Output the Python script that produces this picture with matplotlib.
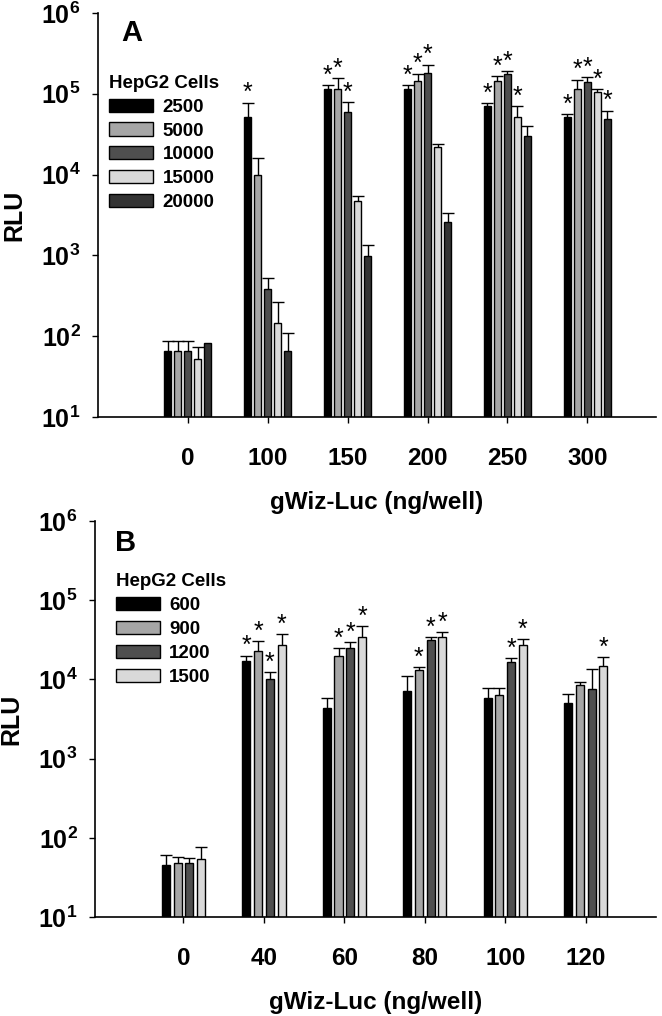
import numpy as np
import matplotlib
matplotlib.use("Agg")
import matplotlib.pyplot as plt
from matplotlib.patches import Patch
from matplotlib.ticker import FixedLocator, FuncFormatter, NullLocator

plt.rcParams['font.family'] = ['Liberation Sans', 'DejaVu Sans']
plt.rcParams['font.weight'] = 'bold'
plt.rcParams['mathtext.fontset'] = 'custom'
plt.rcParams['mathtext.bf'] = 'Liberation Sans:bold'
plt.rcParams['mathtext.rm'] = 'Liberation Sans:bold'

# Panel A data
doses_a = ['0', '100', '150', '200', '250', '300']
cells_a = ['2500', '5000', '10000', '15000', '20000']
colors_a = ['#000000', '#a6a6a6', '#4f4f4f', '#d9d9d9', '#333333']
rlu_a = [
    [66, 51000, 115000, 115000, 71000, 51000],
    [66, 9900, 115000, 145000, 145000, 115000],
    [66, 380, 59000, 181000, 176000, 141000],
    [52, 146, 4700, 22000, 51000, 105000],
    [82, 66, 980, 2600, 30000, 49000],
]
sd_a = [
    [21, 27000, 14000, 14000, 6000, 5000],
    [21, 6100, 43000, 33000, 21000, 35000],
    [21, 145, 21000, 49000, 16000, 22000],
    [22, 119, 700, 2000, 20000, 10000],
    [0, 44, 370, 700, 10000, 13000],
]
star_a = [
    [0, 1, 1, 1, 1, 1],
    [0, 0, 1, 1, 1, 1],
    [0, 0, 1, 1, 1, 1],
    [0, 0, 0, 0, 1, 1],
    [0, 0, 0, 0, 0, 1],
]

# Panel B data
doses_b = ['0', '40', '60', '80', '100', '120']
cells_b = ['600', '900', '1200', '1500']
colors_b = ['#000000', '#a6a6a6', '#4f4f4f', '#d9d9d9']
rlu_b = [
    [46, 17000, 4300, 7200, 5900, 5100],
    [48, 23000, 20000, 13300, 6300, 8400],
    [48, 10200, 24800, 31500, 16600, 7500],
    [54, 27300, 34000, 34000, 27300, 14600],
]
sd_b = [
    [15, 3000, 1450, 3800, 1800, 1400],
    [10, 7600, 4800, 1000, 1600, 900],
    [8, 2100, 4700, 2800, 1900, 6200],
    [23, 9700, 12800, 6000, 5100, 4800],
]
star_b = [
    [0, 1, 0, 0, 0, 0],
    [0, 1, 1, 1, 0, 0],
    [0, 1, 1, 1, 1, 0],
    [0, 1, 1, 1, 1, 1],
]


def draw_panel(ax, doses, cells, colors, rlu, sd, stars, pitch, width, letter,
               leg_xy, letter_xy, xlim):
    x = np.arange(len(doses))
    n = len(cells)
    for i in range(n):
        pos = x + (i - (n - 1) / 2) * pitch
        vals = np.array(rlu[i], dtype=float)
        err = np.array(sd[i], dtype=float)
        ax.bar(pos, vals, width=width, color=colors[i], edgecolor='black',
               linewidth=1.0, zorder=2)
        m = err > 0
        eb = ax.errorbar(pos[m], vals[m], yerr=[np.zeros(m.sum()), err[m]],
                         fmt='none', ecolor='black', elinewidth=1.0,
                         capsize=4, capthick=1.0, zorder=3)
        # hide the lower caps sitting on top of the bars
        eb[1][0].set_visible(False)
        for j in range(len(doses)):
            if stars[i][j]:
                ax.annotate('*', (pos[j], vals[j] + err[j]), xytext=(0, -2),
                            textcoords='offset points', ha='center', va='bottom',
                            fontsize=18, fontweight='normal')

    ax.set_yscale('log')
    ax.set_ylim(10, 1e6)
    ax.set_xlim(*xlim)
    ax.yaxis.set_major_locator(FixedLocator([1e1, 1e2, 1e3, 1e4, 1e5, 1e6]))
    ax.yaxis.set_minor_locator(NullLocator())
    ax.yaxis.set_major_formatter(FuncFormatter(
        lambda v, p: r'$\mathbf{10^{%d}}$' % round(np.log10(v))))
    ax.set_xticks(x)
    ax.set_xticklabels(doses)
    ax.tick_params(axis='y', direction='out', length=4.5, width=1.0,
                   labelsize=18, pad=8)
    ax.tick_params(axis='x', direction='out', length=4.5, width=1.0,
                   labelsize=17.5, pad=17)
    for s in ['top', 'right']:
        ax.spines[s].set_visible(False)
    for s in ['left', 'bottom']:
        ax.spines[s].set_linewidth(1.2)

    ax.set_ylabel('RLU', fontsize=18, fontweight='bold')
    ax.yaxis.set_label_coords(-0.128, 0.5)
    ax.set_xlabel('gWiz-Luc (ng/well)', fontsize=17.5, fontweight='bold',
                  labelpad=15)
    ax.text(letter_xy[0], letter_xy[1], letter, transform=ax.transAxes,
            fontsize=21, fontweight='bold', ha='center', va='center')

    handles = [Patch(facecolor=c, edgecolor='black', linewidth=1.0) for c in colors]
    leg = ax.legend(handles, cells, title='HepG2 Cells', loc='upper left',
                    bbox_to_anchor=leg_xy, frameon=False, fontsize=13.5,
                    title_fontproperties={'size': 13.5, 'weight': 'bold'},
                    handlelength=2.35, handleheight=0.7, labelspacing=0.36,
                    handletextpad=0.5, borderpad=0, borderaxespad=0,
                    alignment='left')
    return leg


fig = plt.figure(figsize=(6.62, 10.16), dpi=100)
ax_a = fig.add_axes([0.148, 0.5896, 0.843, 0.3976])
ax_b = fig.add_axes([0.1435, 0.0974, 0.847, 0.3898])

draw_panel(ax_a, doses_a, cells_a, colors_a, rlu_a, sd_a, star_a,
           pitch=0.125, width=0.085, letter='A',
           leg_xy=(0.02, 0.847), letter_xy=(0.061, 0.95), xlim=(-1.125, 5.86))
draw_panel(ax_b, doses_b, cells_b, colors_b, rlu_b, sd_b, star_b,
           pitch=0.146, width=0.1, letter='B',
           leg_xy=(0.037, 0.868), letter_xy=(0.055, 0.944), xlim=(-1.1, 5.87))

fig.savefig('out.png', dpi=100)
